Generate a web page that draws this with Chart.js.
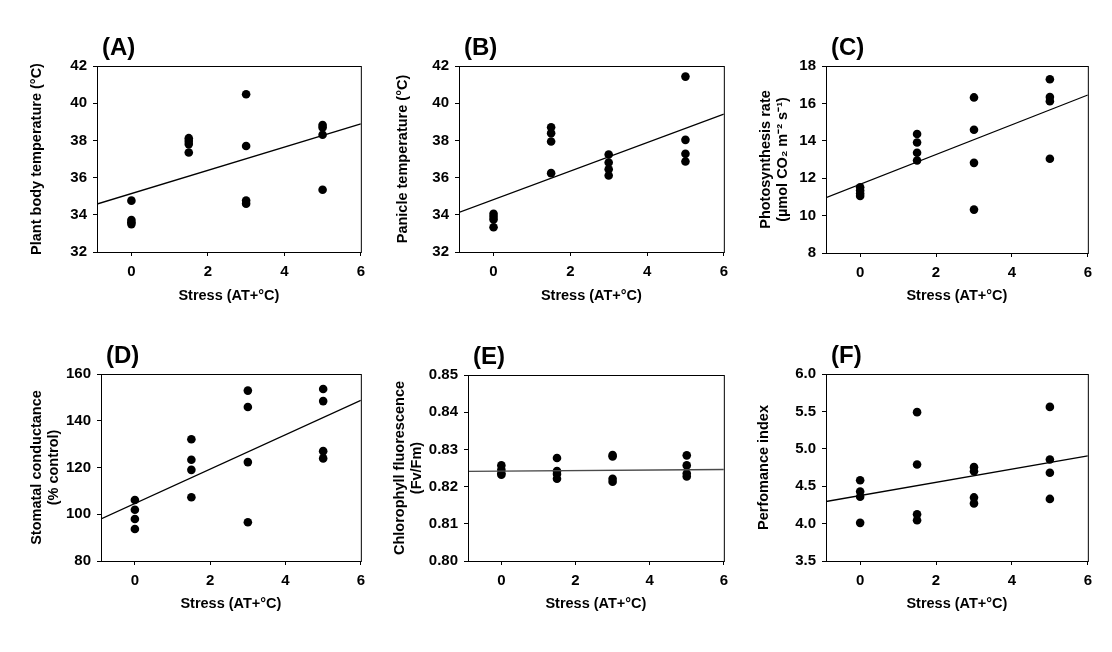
<!DOCTYPE html>
<html>
<head>
<meta charset="utf-8">
<script src="https://cdn.jsdelivr.net/npm/chart.js@4/dist/chart.umd.min.js"></script>
<style>
  html, body { margin: 0; padding: 0; background: #fff; }
  #wrap { position: relative; width: 1112px; height: 652px; overflow: hidden; }
  #wrap canvas { position: absolute; }
</style>
</head>
<body>
<div id="wrap"></div>
<script>
// stress level of every replicate (4 per group)
const stressX = [0, 0, 0, 0, 1.5, 1.5, 1.5, 1.5, 3, 3, 3, 3, 5, 5, 5, 5];

const plantBodyTemp = [34.76, 33.72, 33.6, 33.5, 38.12, 37.97, 37.8, 37.35, 40.48, 37.7, 34.77, 34.6, 38.83, 38.7, 38.3, 35.35];
const panicleTemp = [34.05, 33.9, 33.75, 33.33, 38.71, 38.39, 37.94, 36.24, 37.24, 36.81, 36.45, 36.11, 41.43, 38.03, 37.28, 36.87];
const photosynthesis = [11.52, 11.34, 11.18, 11.05, 14.36, 13.91, 13.36, 12.95, 16.32, 14.59, 12.82, 10.32, 17.29, 16.34, 16.12, 13.04];
const stomatalCond = [106.1, 101.9, 98.0, 93.7, 132.1, 123.3, 119.0, 107.3, 152.9, 145.9, 122.3, 96.6, 153.6, 148.4, 127.0, 123.9];
const fvFm = [0.8257, 0.8245, 0.8236, 0.8232, 0.8277, 0.8242, 0.8234, 0.8221, 0.8285, 0.8281, 0.8221, 0.8213, 0.8284, 0.8257, 0.8235, 0.8227];
const perfIndex = [4.58, 4.43, 4.36, 4.01, 5.49, 4.79, 4.125, 4.045, 4.755, 4.70, 4.35, 4.27, 5.56, 4.857, 4.68, 4.33];

// regression lines: y at the left and right end of the x axis
const fitX = [-0.9, 6];
const fitPlantBody = [34.58, 38.89];
const fitPanicle = [34.13, 39.41];
const fitPhoto = [10.96, 16.45];
const fitStomatal = [98.0, 148.7];
const fitFvFm = [0.8241, 0.8246];
const fitPerf = [4.295, 4.906];

const xTitle = 'Stress (AT+°C)';

const FONT = 'Arial, "Liberation Sans", sans-serif';
const TITLE_SIZE = 14.5;
const TITLE_LH = 1.2;
const HALF_TITLE = TITLE_SIZE * TITLE_LH / 2;

// frame + panel letter
const panelDeco = {
  id: 'panelDeco',
  afterDraw(chart) {
    const { ctx, chartArea: a } = chart;
    ctx.save();
    ctx.strokeStyle = '#000';
    ctx.lineWidth = 1;
    ctx.strokeRect(a.left + 0.5, a.top + 0.5, a.right - a.left, a.bottom - a.top);
    ctx.fillStyle = '#000';
    ctx.font = 'bold 24px ' + FONT;
    ctx.textBaseline = 'alphabetic';
    ctx.fillText(chart.options.plugins.panelDeco.label, a.left + 5, a.top - 11);
    ctx.restore();
  }
};

function makePanel(p) {
  const left = Math.round(p.yTitleX - HALF_TITLE);
  const top = Math.round(p.t - 45);
  const bottom = Math.round(p.xTitleY + HALF_TITLE);
  const W = Math.round(p.r - left + 10);
  const H = bottom - top;
  const yw = Math.round(p.l) - left;
  const xh = bottom - Math.round(p.b);

  const cv = document.createElement('canvas');
  cv.width = W; cv.height = H;
  cv.style.left = left + 'px';
  cv.style.top = top + 'px';
  cv.style.width = W + 'px';
  cv.style.height = H + 'px';
  document.getElementById('wrap').appendChild(cv);

  const axisCommon = {
    type: 'linear',
    grid: { drawOnChartArea: false, drawTicks: true, tickLength: 4, color: '#000', lineWidth: 1 },
    border: { display: true, color: '#000', width: 1 },
  };
  const tickFont = { family: FONT, size: 15, weight: 'bold' };
  const titleFont = { family: FONT, size: TITLE_SIZE, weight: 'bold', lineHeight: TITLE_LH };

  new Chart(cv.getContext('2d'), {
    data: {
      datasets: [
        {
          type: 'line',
          data: fitX.map((x, i) => ({ x, y: p.fit[i] })),
          borderColor: p.lineColor || '#000',
          borderWidth: 1.3,
          pointRadius: 0,
          fill: false,
        },
        {
          type: 'scatter',
          data: stressX.map((x, i) => ({ x, y: p.values[i] })),
          backgroundColor: '#000',
          borderWidth: 0,
          pointRadius: 4.3,
        }
      ]
    },
    options: {
      responsive: false,
      animation: false,
      layout: { padding: { top: 45, right: 10, left: 0, bottom: 0 } },
      plugins: {
        legend: { display: false },
        tooltip: { enabled: false },
        panelDeco: { label: p.label },
      },
      scales: {
        x: {
          ...axisCommon,
          position: 'bottom',
          min: -0.9, max: 6,
          afterFit: s => { s.height = xh; },
          ticks: { stepSize: 2, includeBounds: false, color: '#000', padding: 7, font: tickFont },
          title: { display: true, text: xTitle, color: '#000', padding: 0, font: titleFont },
        },
        y: {
          ...axisCommon,
          position: 'left',
          min: p.yMin, max: p.yMax,
          afterFit: s => { s.width = yw; },
          ticks: {
            stepSize: p.yStep, color: '#000', padding: 6, font: tickFont,
            callback: v => v.toFixed(p.dec),
          },
          title: { display: true, text: p.yTitle, color: '#000', padding: 0, font: titleFont },
        }
      }
    },
    plugins: [panelDeco]
  });
}

makePanel({ label: '(A)', l: 97, t: 66, r: 362, b: 252, yTitleX: 37, xTitleY: 296.7,
  yMin: 32, yMax: 42, yStep: 2, dec: 0, yTitle: 'Plant body temperature (°C)', values: plantBodyTemp, fit: fitPlantBody });
makePanel({ label: '(B)', l: 459, t: 66, r: 725, b: 252, yTitleX: 403, xTitleY: 296.7,
  yMin: 32, yMax: 42, yStep: 2, dec: 0, yTitle: 'Panicle temperature (°C)', values: panicleTemp, fit: fitPanicle });
makePanel({ label: '(C)', l: 826, t: 66, r: 1089, b: 253, yTitleX: 766, xTitleY: 296.7,
  yMin: 8, yMax: 18, yStep: 2, dec: 0, yTitle: ['Photosynthesis rate', '(µmol CO₂ m⁻² s⁻¹)'], values: photosynthesis, fit: fitPhoto });
makePanel({ label: '(D)', l: 101, t: 374, r: 362, b: 561, yTitleX: 37, xTitleY: 604.3,
  yMin: 80, yMax: 160, yStep: 20, dec: 0, yTitle: ['Stomatal conductance', '(% control)'], values: stomatalCond, fit: fitStomatal });
makePanel({ label: '(E)', l: 468, t: 375, r: 725, b: 561, yTitleX: 399.5, xTitleY: 604.3,
  yMin: 0.80, yMax: 0.85, yStep: 0.01, dec: 2, yTitle: ['Chlorophyll fluorescence', '(Fv/Fm)'], values: fvFm, fit: fitFvFm, lineColor: '#4a4a4a' });
makePanel({ label: '(F)', l: 826, t: 374, r: 1089, b: 561, yTitleX: 764, xTitleY: 604.3,
  yMin: 3.5, yMax: 6.0, yStep: 0.5, dec: 1, yTitle: 'Perfomance index', values: perfIndex, fit: fitPerf });
</script>
</body>
</html>
